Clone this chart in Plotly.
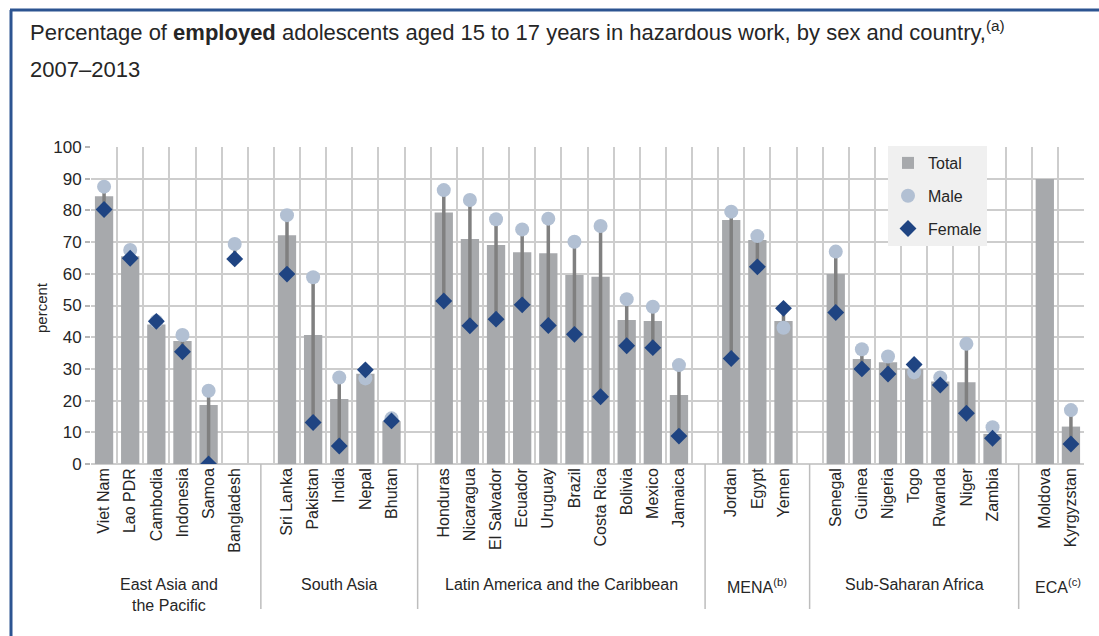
import plotly.graph_objects as go

# Regions and the number of countries shown in each
groups = ["East Asia and<br>the Pacific", "South Asia", "Latin America and the Caribbean",
          "MENA<sup>(b)</sup>", "Sub-Saharan Africa", "ECA<sup>(c)</sup>"]
group_sizes = [6, 5, 10, 3, 7, 2]

countries = ["Viet Nam", "Lao PDR", "Cambodia", "Indonesia", "Samoa", "Bangladesh",
             "Sri Lanka", "Pakistan", "India", "Nepal", "Bhutan",
             "Honduras", "Nicaragua", "El Salvador", "Ecuador", "Uruguay", "Brazil",
             "Costa Rica", "Bolivia", "Mexico", "Jamaica",
             "Jordan", "Egypt", "Yemen",
             "Senegal", "Guinea", "Nigeria", "Togo", "Rwanda", "Niger", "Zambia",
             "Moldova", "Kyrgyzstan"]

total = [84.5, 65.5, 44.0, 38.8, 18.6, None,
         72.2, 40.7, 20.5, 28.5, 13.5,
         79.3, 71.0, 69.1, 66.8, 66.5, 59.6, 59.1, 45.4, 45.1, 21.8,
         77.0, 70.7, 45.1,
         59.9, 33.1, 32.1, 30.0, 26.0, 25.8, 9.5,
         89.9, 11.8]

male = [87.5, 67.5, 45.0, 40.7, 23.1, 69.4,
        78.5, 58.9, 27.3, 27.0, 14.4,
        86.4, 83.3, 77.2, 74.0, 77.4, 70.1, 75.1, 52.0, 49.6, 31.2,
        79.6, 71.9, 43.0,
        67.0, 36.2, 33.9, 28.9, 27.3, 37.9, 11.6,
        None, 17.0]

female = [80.3, 64.9, 45.0, 35.4, 0.0, 64.7,
          59.9, 13.1, 5.7, 29.7, 13.6,
          51.4, 43.6, 45.7, 50.2, 43.7, 40.9, 21.2, 37.3, 36.7, 8.8,
          33.3, 62.2, 49.1,
          47.8, 30.0, 28.4, 31.4, 24.9, 16.0, 8.1,
          None, 6.3]

BAR = "#A7A9AC"
MALE = "#B2C0D3"
FEMALE = "#1F4482"
LINK = "#808080"
GRID = "#CDCDCD"
TEXT = "#262626"
FRAME = "#2C5491"
FONT = "Liberation Sans, Arial, sans-serif"

# Slot positions: one slot per country, with an empty slot between regions
pos, centers, gaps = [], [], []
slot = 0
for gi, n in enumerate(group_sizes):
    first = slot
    for _ in range(n):
        pos.append(slot)
        slot += 1
    centers.append((first + slot - 1) / 2)
    if gi < len(group_sizes) - 1:
        gaps.append(slot)
        slot += 1
n_slots = slot

# Vertical connector between male and female values
link_x, link_y = [], []
for p, m, f in zip(pos, male, female):
    if m is not None and f is not None:
        link_x += [p, p, None]
        link_y += [m, f, None]

fig = go.Figure()
fig.add_trace(go.Bar(x=pos, y=total, width=0.7, marker=dict(color=BAR, line=dict(width=0)),
                     name="Total", legendgroup="t"))
fig.add_trace(go.Scatter(x=link_x, y=link_y, mode="lines", line=dict(color=LINK, width=3.5),
                         showlegend=False, hoverinfo="skip"))
fig.add_trace(go.Scatter(x=pos, y=male, mode="markers", name="Male", legendgroup="m",
                         marker=dict(symbol="circle", size=14, color=MALE)))
fig.add_trace(go.Scatter(x=pos, y=female, mode="markers", name="Female", legendgroup="f",
                         marker=dict(symbol="diamond", size=13, color=FEMALE)))

plot_l, plot_r, plot_t, plot_b = 91, 1084, 147, 464
W, H = 1099, 636
ph = plot_b - plot_t
pw = plot_r - plot_l


def py(y_px):
    return (plot_b - y_px) / ph


def px(x_px):
    return (x_px - plot_l) / pw


annotations = [
    dict(text="Percentage of <b>employed</b> adolescents aged 15 to 17 years in hazardous work, "
              "by sex and country,<sup>(a)</sup>",
         xref="paper", yref="paper", x=px(28), y=py(31), xanchor="left", yanchor="middle",
         showarrow=False, font=dict(size=22, color=TEXT, family=FONT)),
    dict(text="2007\u20132013", xref="paper", yref="paper", x=px(28), y=py(70),
         xanchor="left", yanchor="middle", showarrow=False,
         font=dict(size=22, color=TEXT, family=FONT)),
    dict(text="percent", xref="paper", yref="paper", x=px(41), y=py(308), textangle=-90,
         xanchor="center", yanchor="middle", showarrow=False,
         font=dict(size=15, color=TEXT, family=FONT)),
]
for name, c in zip(groups, centers):
    annotations.append(dict(text=name, xref="x", yref="paper", x=c, y=py(574),
                            xanchor="center", yanchor="top", showarrow=False,
                            font=dict(size=16, color=TEXT, family=FONT)))

shapes = []
for g in gaps:
    shapes.append(dict(type="line", xref="x", yref="paper", x0=g, x1=g, y0=0, y1=py(609),
                       line=dict(color="#BDBDBD", width=1.5)))
# Frame lines along the top and left edge
shapes.append(dict(type="line", xref="paper", yref="paper", x0=px(10), x1=px(W + 5),
                   y0=py(10), y1=py(10), line=dict(color=FRAME, width=3)))
shapes.append(dict(type="line", xref="paper", yref="paper", x0=px(11), x1=px(11),
                   y0=py(10), y1=py(H + 5), line=dict(color=FRAME, width=3)))

fig.update_layout(
    width=W, height=H,
    margin=dict(l=plot_l, r=W - plot_r, t=plot_t, b=H - plot_b),
    paper_bgcolor="white", plot_bgcolor="white",
    font=dict(family=FONT, color=TEXT, size=16),
    barmode="overlay",
    showlegend=True,
    legend=dict(x=px(888), y=py(146), xanchor="left", yanchor="top",
                bgcolor="#F0F0F0", borderwidth=0, traceorder="grouped",
                tracegroupgap=9, font=dict(size=16, color=TEXT, family=FONT)),
    xaxis=dict(range=[-0.5, n_slots - 0.5], tickmode="array", tickvals=pos, ticktext=countries,
               tickangle=-90, showgrid=False, zeroline=False, showline=False, ticks="",
               tickfont=dict(size=16, color=TEXT, family=FONT),
               minor=dict(tickmode="linear", tick0=0.5, dtick=1, showgrid=True,
                          gridcolor=GRID, gridwidth=1.5, ticks="")),
    yaxis=dict(range=[0, 100], dtick=10, showgrid=True, gridcolor=GRID, gridwidth=2,
               zeroline=True, zerolinecolor=GRID, zerolinewidth=2, showline=False,
               ticks="outside", ticklen=5, tickcolor="#B5B5B5", tickwidth=1.5,
               tickfont=dict(size=17, color=TEXT, family=FONT)),
    annotations=annotations,
    shapes=shapes,
)

fig.write_html("out.html")
